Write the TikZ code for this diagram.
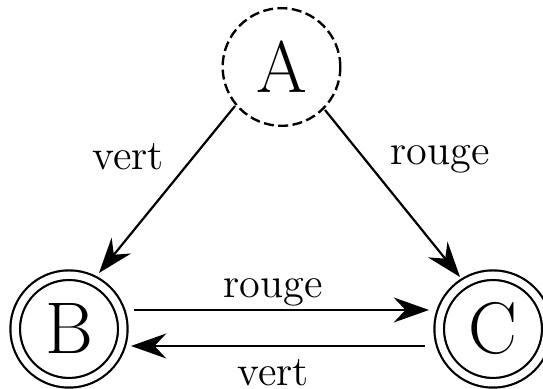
\documentclass[tikz,border=0pt]{standalone}
\usetikzlibrary{arrows.meta}
\begin{document}
\begin{tikzpicture}[x=0.34pt,y=-0.34pt,
  startstate/.style={circle, draw, dash pattern=on 3.4pt off 1.5pt, line width=0.8pt, minimum size=40pt, inner sep=0pt, font=\Huge},
  accstate/.style={circle, draw, double, double distance=2.5pt, line width=0.75pt, minimum size=36.6pt, inner sep=0pt, font=\Huge},
  trans/.style={-{Stealth[length=12pt,width=8.5pt,inset=4pt]}, line width=0.75pt},
  lab/.style={font=\Large, anchor=base, inner sep=0pt}]
\useasboundingbox (0,0) rectangle (543,389);
\node[startstate] (A) at (281.5,67) {A};
\node[accstate] (B) at (69,329) {B};
\node[accstate] (C) at (493,329) {C};
\draw[trans] ([shift={(-46.5,39)}]A.center) -- ([shift={(30,-56)}]B.center);
\draw[trans] ([shift={(43.5,43)}]A.center) -- ([shift={(-33,-52)}]C.center);
\draw[trans] ([shift={(65,-19)}]B.center) -- ([shift={(-64,-19)}]C.center);
\draw[trans] ([shift={(-68,17)}]C.center) -- ([shift={(62,17)}]B.center);
\node[lab] (l1) at (128,170) {vert};
\node[lab] (l2) at (440,165) {rouge};
\node[lab] (l3) at (273,298) {rouge};
\node[lab] (l4) at (273,385.5) {vert};
\end{tikzpicture}
\end{document}
